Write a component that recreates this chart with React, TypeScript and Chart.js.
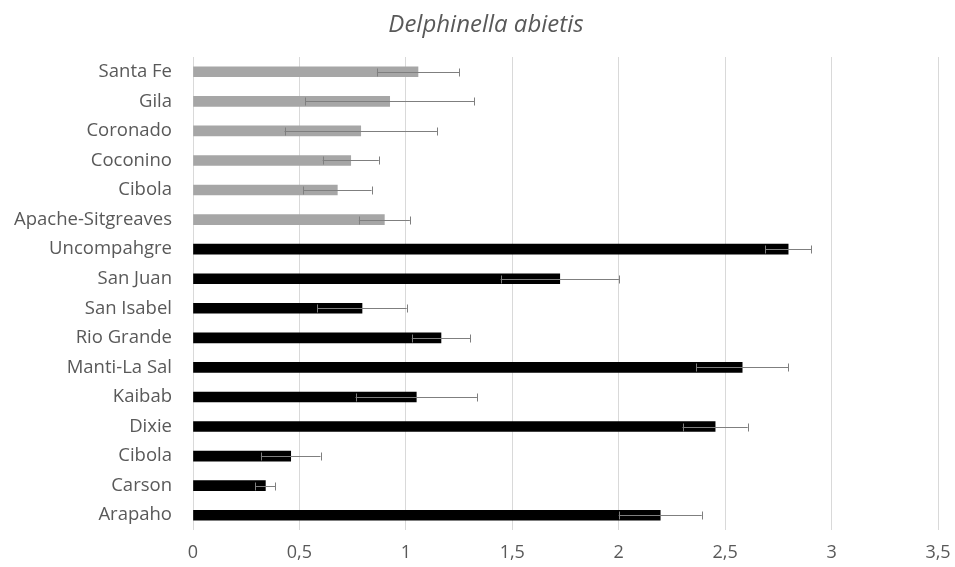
import React, { useEffect, useRef } from "react";
import { Chart, registerables } from "chart.js";

Chart.register(...registerables);

const titleText = "Delphinella abietis";
const categories = [
  "Santa Fe", "Gila", "Coronado", "Coconino", "Cibola", "Apache-Sitgreaves",
  "Uncompahgre", "San Juan", "San Isabel", "Rio Grande", "Manti-La Sal",
  "Kaibab", "Dixie", "Cibola", "Carson", "Arapaho",
];
const values = [1.057, 0.924, 0.788, 0.741, 0.678, 0.899, 2.796, 1.723, 0.794, 1.165, 2.58, 1.049, 2.453, 0.459, 0.34, 2.195];
const errors = [0.193, 0.396, 0.358, 0.132, 0.161, 0.12, 0.108, 0.278, 0.21, 0.137, 0.217, 0.285, 0.153, 0.14, 0.047, 0.195];
const groups = ["gray", "gray", "gray", "gray", "gray", "gray", "black", "black", "black", "black", "black", "black", "black", "black", "black", "black"];
const groupColors: Record<string, string> = { gray: "#a6a6a6", black: "#000000" };
const xMin = 0;
const xMax = 3.5;
const xStep = 0.5;

const errorBarPlugin = {
  id: "errorBars",
  afterDatasetsDraw(chart: any) {
    const ctx = chart.ctx;
    const xs = chart.scales.x;
    const meta = chart.getDatasetMeta(0);
    ctx.save();
    ctx.strokeStyle = "#7f7f7f";
    ctx.lineWidth = 1;
    meta.data.forEach((bar: any, i: number) => {
      const y = Math.round(bar.y) + 0.5;
      const x1 = xs.getPixelForValue(values[i] - errors[i]);
      const x2 = xs.getPixelForValue(values[i] + errors[i]);
      ctx.beginPath();
      ctx.moveTo(x1, y);
      ctx.lineTo(x2, y);
      ctx.moveTo(Math.round(x1) + 0.5, y - 4);
      ctx.lineTo(Math.round(x1) + 0.5, y + 4);
      ctx.moveTo(Math.round(x2) + 0.5, y - 4);
      ctx.lineTo(Math.round(x2) + 0.5, y + 4);
      ctx.stroke();
    });
    ctx.restore();
  },
};

const titlePlugin = {
  id: "offsetTitle",
  afterDraw(chart: any) {
    const ctx = chart.ctx;
    ctx.save();
    ctx.font = "italic 24px 'Open Sans', sans-serif";
    ctx.fillStyle = "#595959";
    ctx.textAlign = "center";
    ctx.textBaseline = "middle";
    ctx.fillText(titleText, chart.width / 2 + 8.5, 25.4);
    ctx.restore();
  },
};

export default function App() {
  const ref = useRef<HTMLCanvasElement | null>(null);
  useEffect(() => {
    if (!ref.current) return;
    const chart = new Chart(ref.current, {
      type: "bar",
      data: {
        labels: categories,
        datasets: [
          {
            data: values,
            backgroundColor: groups.map((g) => groupColors[g]),
            barThickness: 10,
            borderWidth: 0,
          },
        ],
      },
      options: {
        indexAxis: "y",
        animation: false,
        responsive: false,
        layout: { padding: { top: 57, right: 17, bottom: 0, left: 0 } },
        plugins: {
          legend: { display: false },
          tooltip: { enabled: false },
          title: { display: false },
        },
        scales: {
          x: {
            min: xMin,
            max: xMax,
            afterFit: (s: any) => {
              s.height = 37;
              s.paddingRight = 0;
              s.paddingLeft = 0;
            },
            ticks: {
              stepSize: xStep,
              color: "#595959",
              padding: 12,
              font: { family: "'Open Sans', sans-serif", size: 18 },
              callback: (v: any) => String(Number(v)).replace(".", ","),
            },
            grid: { color: "#d9d9d9", drawTicks: false },
            border: { display: false },
          },
          y: {
            afterFit: (s: any) => { s.width = 193; },
            ticks: {
              color: "#595959",
              padding: 21,
              autoSkip: false,
              font: { family: "'Open Sans', sans-serif", size: 18.5 },
            },
            grid: { display: false, drawTicks: false },
            border: { display: false },
          },
        },
      },
      plugins: [errorBarPlugin, titlePlugin],
    });
    return () => chart.destroy();
  }, []);
  return (
    <div style={{ position: "fixed", left: 0, top: 0, width: 955, height: 567 }}>
      <canvas ref={ref} width={955} height={567} style={{ width: 955, height: 567, display: "block" }} />
    </div>
  );
}
